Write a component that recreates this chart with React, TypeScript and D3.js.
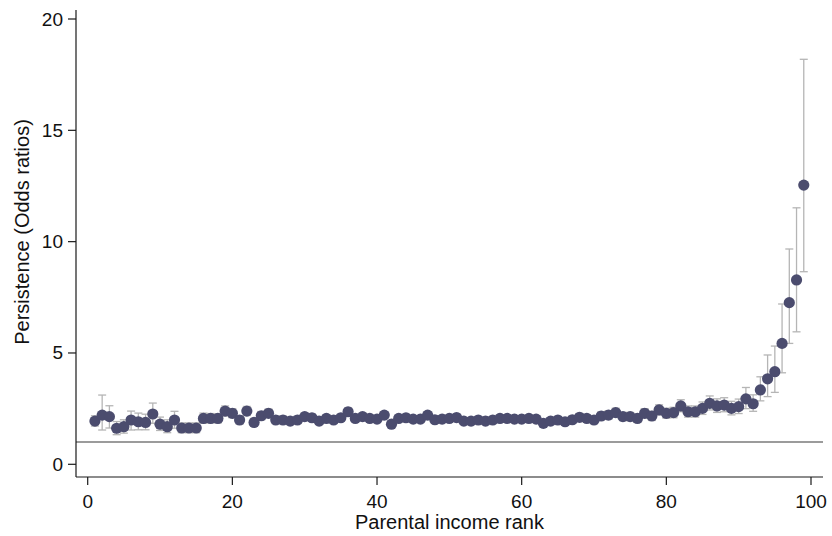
import React from "react";
import * as d3 from "d3";

// Parental income rank (percentile) for each estimate
const ranks: number[] = Array.from({ length: 99 }, (_, i) => i + 1);

// Persistence odds ratio at each rank
const oddsRatio: number[] = [
  1.94, 2.21, 2.14, 1.62, 1.69, 1.99, 1.91, 1.88, 2.26, 1.80,
  1.69, 1.99, 1.63, 1.63, 1.63, 2.06, 2.06, 2.06, 2.39, 2.29,
  1.99, 2.39, 1.88, 2.18, 2.29, 1.99, 1.99, 1.94, 1.99, 2.14,
  2.09, 1.94, 2.06, 1.99, 2.09, 2.36, 2.06, 2.14, 2.06, 2.03,
  2.21, 1.80, 2.06, 2.09, 2.03, 2.03, 2.21, 2.00, 2.03, 2.06,
  2.10, 1.94, 1.94, 1.99, 1.94, 1.99, 2.06, 2.06, 2.03, 2.03,
  2.06, 2.03, 1.84, 1.94, 1.99, 1.91, 2.00, 2.11, 2.06, 1.99,
  2.17, 2.21, 2.32, 2.14, 2.14, 2.06, 2.29, 2.17, 2.44, 2.29,
  2.32, 2.62, 2.36, 2.36, 2.51, 2.74, 2.62, 2.66, 2.51, 2.59,
  2.94, 2.72, 3.34, 3.84, 4.16, 5.43, 7.26, 8.28, 12.54,
];

// Lower bound of the confidence interval
const ciLow: number[] = [
  1.72, 1.54, 1.63, 1.33, 1.40, 1.54, 1.55, 1.55, 1.84, 1.52,
  1.42, 1.62, 1.42, 1.42, 1.42, 1.84, 1.86, 1.86, 2.17, 2.09,
  1.81, 2.19, 1.71, 2.00, 2.11, 1.83, 1.83, 1.79, 1.84, 1.98,
  1.94, 1.80, 1.92, 1.85, 1.95, 2.20, 1.93, 2.00, 1.93, 1.90,
  2.07, 1.68, 1.93, 1.96, 1.90, 1.90, 2.07, 1.87, 1.90, 1.93,
  1.97, 1.81, 1.81, 1.86, 1.81, 1.86, 1.92, 1.92, 1.89, 1.89,
  1.92, 1.89, 1.71, 1.80, 1.85, 1.77, 1.85, 1.95, 1.90, 1.83,
  2.00, 2.03, 2.13, 1.96, 1.96, 1.88, 2.09, 1.97, 2.22, 2.07,
  2.09, 2.36, 2.12, 2.12, 2.24, 2.44, 2.33, 2.36, 2.22, 2.28,
  2.50, 2.38, 2.85, 3.04, 3.23, 4.11, 5.43, 5.95, 8.65,
];

// Upper bound of the confidence interval
const ciHigh: number[] = [
  2.18, 3.11, 2.63, 1.92, 2.00, 2.39, 2.30, 2.25, 2.75, 2.12,
  2.00, 2.38, 1.86, 1.86, 1.86, 2.30, 2.28, 2.27, 2.62, 2.50,
  2.18, 2.60, 2.06, 2.37, 2.48, 2.16, 2.16, 2.10, 2.15, 2.31,
  2.25, 2.09, 2.21, 2.14, 2.24, 2.53, 2.20, 2.29, 2.20, 2.17,
  2.36, 1.93, 2.20, 2.23, 2.17, 2.17, 2.36, 2.14, 2.17, 2.20,
  2.24, 2.08, 2.08, 2.13, 2.08, 2.13, 2.21, 2.21, 2.18, 2.18,
  2.21, 2.18, 1.98, 2.09, 2.14, 2.06, 2.16, 2.28, 2.23, 2.16,
  2.35, 2.40, 2.52, 2.33, 2.33, 2.25, 2.50, 2.38, 2.67, 2.52,
  2.56, 2.90, 2.62, 2.62, 2.80, 3.07, 2.94, 2.99, 2.83, 2.93,
  3.45, 3.12, 3.93, 4.91, 5.31, 7.20, 9.67, 11.52, 18.19,
];

const xTicks: number[] = [0, 20, 40, 60, 80, 100];
const yTicks: number[] = [0, 5, 10, 15, 20];
const referenceOdds = 1;

const xTitle = "Parental income rank";
const yTitle = "Persistence (Odds ratios)";

const W = 832;
const H = 536;
const axisX = 76;
const axisY = 477;
const plotRight = 823;
const FONT = "'Liberation Sans', Arial, sans-serif";

export default function App() {
  const x = d3.scaleLinear().domain([0, 100]).range([87.7, 811]);
  const y = d3.scaleLinear().domain([0, 20]).range([464.3, 19]);

  const cap = 4;
  const barColor = "#b5b5b5";
  const dotColor = "#4b4c6e";

  return (
    <svg
      width={W}
      height={H}
      style={{ position: "absolute", left: 0, top: 0, background: "#fff" }}
      fontFamily={FONT}
    >
      <rect x={0} y={0} width={W} height={H} fill="#fff" />

      {/* reference line at odds ratio 1 */}
      <line
        x1={axisX}
        x2={plotRight}
        y1={y(referenceOdds)}
        y2={y(referenceOdds)}
        stroke="#7a7a7a"
        strokeWidth={1.4}
      />

      {/* confidence intervals */}
      <g stroke={barColor} strokeWidth={1.3} fill="none">
        {ranks.map((r, i) => {
          const cx = x(r);
          const y0 = y(ciLow[i]);
          const y1 = y(ciHigh[i]);
          return (
            <g key={`ci-${r}`}>
              <line x1={cx} x2={cx} y1={y0} y2={y1} />
              <line x1={cx - cap} x2={cx + cap} y1={y0} y2={y0} />
              <line x1={cx - cap} x2={cx + cap} y1={y1} y2={y1} />
            </g>
          );
        })}
      </g>

      {/* point estimates */}
      <g fill={dotColor}>
        {ranks.map((r, i) => (
          <circle key={`pt-${r}`} cx={x(r)} cy={y(oddsRatio[i])} r={5.6} />
        ))}
      </g>

      {/* axes */}
      <g stroke="#1a1a1a" strokeWidth={1.2}>
        <line x1={axisX} x2={axisX} y1={10} y2={axisY} />
        <line x1={axisX} x2={plotRight} y1={axisY} y2={axisY} />
        {yTicks.map((t) => (
          <line key={`yt-${t}`} x1={axisX - 8} x2={axisX} y1={y(t)} y2={y(t)} />
        ))}
        {xTicks.map((t) => (
          <line key={`xt-${t}`} x1={x(t)} x2={x(t)} y1={axisY} y2={axisY + 8} />
        ))}
      </g>

      <g fill="#111">
        {yTicks.map((t) => (
          <text key={`yl-${t}`} x={axisX - 13} y={y(t)} fontSize={19} textAnchor="end" dominantBaseline="central">
            {t}
          </text>
        ))}
        {xTicks.map((t) => (
          <text key={`xl-${t}`} x={x(t)} y={axisY + 24} fontSize={19} textAnchor="middle" dominantBaseline="central">
            {t}
          </text>
        ))}
        <text x={(axisX + plotRight) / 2} y={522} fontSize={20} textAnchor="middle" dominantBaseline="central">
          {xTitle}
        </text>
        <text
          transform={`translate(22, 232) rotate(-90)`}
          fontSize={20}
          textAnchor="middle"
          dominantBaseline="central"
        >
          {yTitle}
        </text>
      </g>
    </svg>
  );
}
